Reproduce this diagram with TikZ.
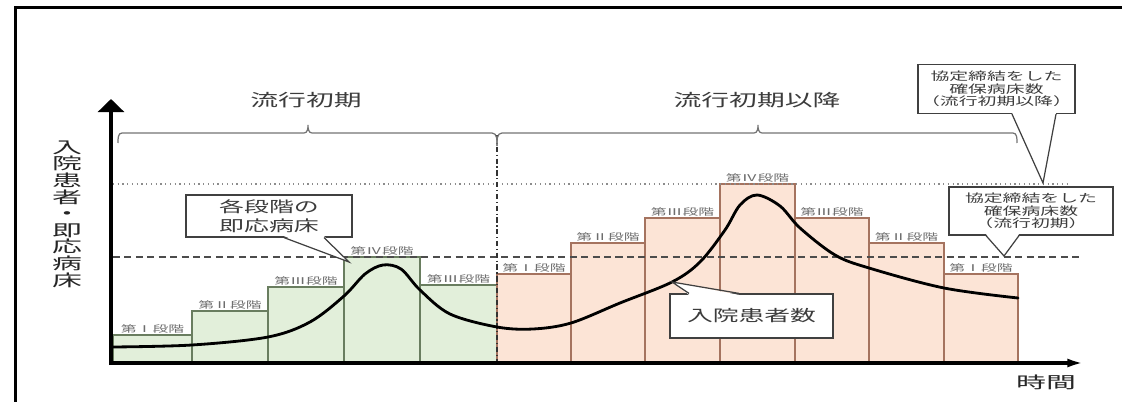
\documentclass[tikz,border=0pt]{standalone}
\usepackage{fontspec}
\setmainfont{Noto Sans CJK JP}
\usetikzlibrary{arrows.meta,calc}
\definecolor{earlyfill}{RGB}{226,239,218}
\definecolor{earlyline}{RGB}{105,125,95}
\definecolor{laterfill}{RGB}{252,228,214}
\definecolor{laterline}{RGB}{165,115,95}
\definecolor{txtgray}{RGB}{60,60,60}
\lineskiplimit=-20pt
\tikzset{
  >=latex,
  earlybar/.style={draw=earlyline,fill=earlyfill,line width=0.7pt},
  laterbar/.style={draw=laterline,fill=laterfill,line width=0.7pt},
  stage/.style={anchor=south,inner sep=0.8pt,text=txtgray!75,
    font=\fontsize{5.3}{6}\selectfont,xscale=1.7},
  period/.style={text=txtgray,font=\fontsize{9.6}{11}\selectfont,xscale=1.65},
  axislabel/.style={text=black!85,align=center,
    font=\fontsize{9.2}{9.45}\selectfont,xscale=1.85},
  callbox/.style={draw=black!75,fill=white,line width=0.7pt,inner sep=0pt,
    align=center,text=txtgray,xscale=1.65},
  callline/.style={draw=black!75,line width=0.7pt},
  bracket/.style={draw=black!55,line width=0.7pt}
}
\begin{document}
\begin{tikzpicture}[x=0.02cm,y=-0.02cm]
\useasboundingbox (0,0) rectangle (1126,402);
% frame
\draw[line width=1.9pt] (15.5,420) -- (15.5,7.5) -- (1122,7.5);
% bed levels: early phase
\draw[earlybar] (113,363) rectangle (192,335);
\draw[earlybar] (192,363) rectangle (268,311);
\draw[earlybar] (268,363) rectangle (344,287);
\draw[earlybar] (344,363) rectangle (420,257);
\draw[earlybar] (420,363) rectangle (497,285);
\node[stage] (e1) at (152.5,335) {第Ⅰ段階};
\node[stage] (e2) at (230,311) {第Ⅱ段階};
\node[stage] (e3) at (306,287) {第Ⅲ段階};
\node[stage] (e4) at (382,257) {第Ⅳ段階};
\node[stage] (e5) at (458.5,285) {第Ⅲ段階};
% bed levels: later phase
\draw[laterbar] (497,363) rectangle (571,274);
\draw[laterbar] (571,363) rectangle (645,243);
\draw[laterbar] (645,363) rectangle (720,218);
\draw[laterbar] (720,363) rectangle (795,184);
\draw[laterbar] (795,363) rectangle (869,218);
\draw[laterbar] (869,363) rectangle (944,243);
\draw[laterbar] (944,363) rectangle (1018,274);
\node[stage] (l1) at (534,274) {第Ⅰ段階};
\node[stage] (l2) at (608,243) {第Ⅱ段階};
\node[stage] (l3) at (682.5,218) {第Ⅲ段階};
\node[stage] (l4) at (757.5,184) {第Ⅳ段階};
\node[stage] (l5) at (832,218) {第Ⅲ段階};
\node[stage] (l6) at (906.5,243) {第Ⅱ段階};
\node[stage] (l7) at (981,274) {第Ⅰ段階};
% secured beds
\draw[black!45,dotted,line width=0.7pt] (113,184) -- (1070,184);
\draw[black!70,line width=0.7pt,dash pattern=on 4pt off 2.5pt] (113,257) -- (1080,257);
\draw[black!80,line width=0.7pt,dash pattern=on 3pt off 1.5pt on 0.7pt off 1.5pt]
  (497,135) -- (497,363);
% inpatients
\draw[line width=1.6pt,line cap=round] plot[smooth,tension=0.55] coordinates {
  (113,347) (192,345) (268,337) (310,322) (344,296) (365,274) (383,265)
  (401,269) (420,290) (450,314) (497,327) (533,329) (571,323) (620,303)
  (672,282) (700,262) (725,230) (740,205) (757,195) (780,206) (800,228)
  (835,255) (869,268) (944,288) (1018,298)};
% axes
\draw[line width=2.8pt,-{Triangle[width=14.7pt,length=7.4pt]}] (111,365) -- (111,99);
\draw[line width=2pt,-{Latex[length=10pt,width=5pt]}] (109,363) -- (1085,363);
\node[axislabel] (ylab) at (67,214) {入\\院\\患\\者\\・\\即\\応\\病\\床};
\node[axislabel] (tlab) at (1046,382) {時間};
% periods
\node[period] (early) at (306,100) {流行初期};
\node[period] (later) at (757,100) {流行初期以降};
\draw[bracket] (118,143) to[out=90,in=180] (122,133) -- (304,133)
  to[out=0,in=-90] (308,125) to[out=-90,in=180] (312,133) -- (492,133)
  to[out=0,in=90] (497,146);
\draw[bracket] (497,146) to[out=90,in=180] (502,133) -- (754,133)
  to[out=0,in=-90] (758,125) to[out=-90,in=180] (762,133) -- (1013,133)
  to[out=0,in=90] (1017,143);
% callouts
\node[callbox,minimum width=2.012cm,minimum height=0.84cm,
  font=\fontsize{8.6}{10.8}\selectfont] (phase) at (269,216) {各段階の\\即応病床};
\coordinate (phasetip) at (349,262);
\fill[white] ($(phase.south west)+(99,-1.5)$) -- (phasetip) -- ($(phase.south west)+(139,-1.5)$) -- cycle;
\draw[callline] ($(phase.south west)+(99,0)$) -- (phasetip) -- ($(phase.south west)+(139,0)$);
\node[callbox,minimum width=1.976cm,minimum height=0.88cm,
  font=\fontsize{8.9}{10}\selectfont] (patients) at (751.5,316) {入院患者数};
\coordinate (patienttip) at (672,282);
\fill[white] ($(patients.north west)+(20,1.5)$) -- (patienttip) -- ($(patients.north west)+(70,1.5)$) -- cycle;
\draw[callline] ($(patients.north west)+(20,0)$) -- (patienttip) -- ($(patients.north west)+(70,0)$);
\node[callbox,minimum width=1.903cm,minimum height=0.98cm,
  font=\fontsize{6.5}{7.1}\selectfont] (laterbeds) at (996.5,89)
  {協定締結をした\\確保病床数\\（流行初期以降）};
\coordinate (latertip) at (1043,183);
\fill[white] ($(laterbeds.south west)+(95,-1.5)$) -- (latertip) -- ($(laterbeds.south west)+(139,-1.5)$) -- cycle;
\draw[callline] ($(laterbeds.south west)+(95,0)$) -- (latertip) -- ($(laterbeds.south west)+(139,0)$);
\node[callbox,minimum width=1.988cm,minimum height=0.96cm,
  font=\fontsize{6.5}{7.1}\selectfont] (earlybeds) at (1031,211)
  {協定締結をした\\確保病床数\\（流行初期）};
\coordinate (earlytip) at (1004,256);
\fill[white] ($(earlybeds.south west)+(38,-1.5)$) -- (earlytip) -- ($(earlybeds.south west)+(71,-1.5)$) -- cycle;
\draw[callline] ($(earlybeds.south west)+(38,0)$) -- (earlytip) -- ($(earlybeds.south west)+(71,0)$);
\end{tikzpicture}
\end{document}
